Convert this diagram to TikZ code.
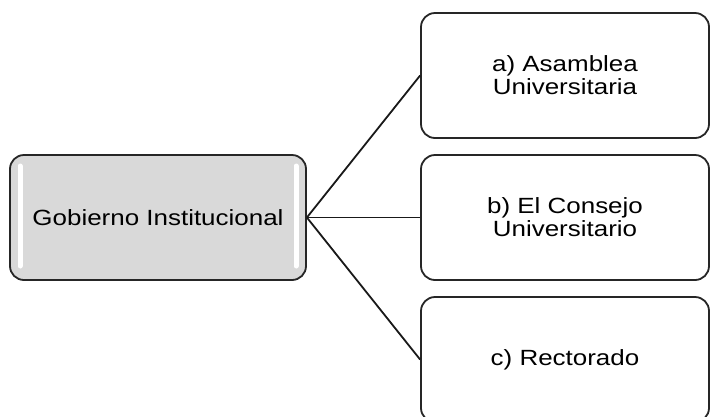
\documentclass[tikz,border=0pt]{standalone}
\usepackage{fontspec}
\setmainfont{Liberation Sans}[FakeStretch=1.18]
\begin{document}
\begin{tikzpicture}[x=1pt,y=-1pt,
    every node/.style={font=\fontsize{22}{23}\selectfont},
    box/.style={draw=black!85, line width=1.8pt, rounded corners=14pt,
      minimum width=288pt, minimum height=125pt, align=center, inner sep=0pt},
    root/.style={box, fill=black!15, minimum width=296pt},
    shine/.style={white, line width=5pt, line cap=round},
    link/.style={line width=1.8pt, draw=black!90}]
  \useasboundingbox (0,0) rectangle (710,416);
  \draw
    (158,217.5) node[root] (gob){Gobierno Institucional}
    (565,75.5) node[box] (asamblea){a) Asamblea\\Universitaria}
    (565,217.5) node[box] (consejo){b) El Consejo\\Universitario}
    (565,359.5) node[box] (rector){c) Rectorado};
  % highlights on the root box
  \draw[shine] (20,166) -- (20,266);
  \draw[shine] (296,166) -- (296,266);
  \begin{scope}[link]
    \draw (gob.east) to (asamblea.west);
    \draw (gob.east) to (consejo.west);
    \draw (gob.east) to (rector.west);
  \end{scope}
\end{tikzpicture}
\end{document}
